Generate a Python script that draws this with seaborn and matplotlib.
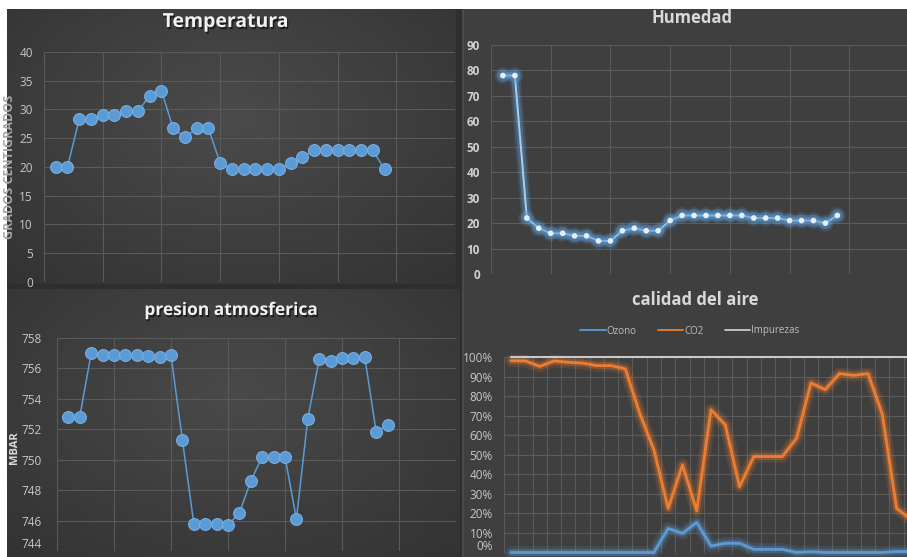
import numpy as np
import matplotlib
matplotlib.use("Agg")
import matplotlib.pyplot as plt
import matplotlib.patheffects as pe
from matplotlib.patches import Rectangle
from matplotlib.lines import Line2D
from matplotlib.colors import to_rgb
import seaborn as sns

# ---- measurements ----
muestras = list(range(1, 30))

temperatura = [20.0, 20.0, 28.3, 28.3, 29.0, 29.0, 29.7, 29.7, 32.4, 33.3,
               26.7, 25.2, 26.7, 26.7, 20.7, 19.6, 19.6, 19.6, 19.6, 19.6,
               20.7, 21.7, 22.9, 22.9, 22.9, 22.9, 22.9, 22.9, 19.6]

humedad = [78, 78, 22, 18, 16, 16, 15, 15, 13, 13,
           17, 18, 17, 17, 21, 23, 23, 23, 23, 23,
           23, 22, 22, 22, 21, 21, 21, 20, 23]

presion = [752.84, 752.84, 757.0, 756.9, 756.9, 756.85, 756.85, 756.8, 756.75, 756.85,
           751.3, 745.8, 745.75, 745.8, 745.7, 746.5, 748.6, 750.2, 750.2, 750.2,
           746.1, 752.7, 756.6, 756.5, 756.7, 756.7, 756.75, 751.8, 752.3]

ozono = [0, 0, 0, 0, 0, 0, 0, 0, 0, 0,
         0, 12.3, 9.8, 15.4, 3.3, 4.7, 4.7, 1.6, 1.6, 1.6,
         0, 0.4, 0, 0, 0, 0, 0, 0.5, 0.5]

co2 = [98.1, 98.0, 95.2, 98.0, 97.3, 96.9, 95.6, 95.6, 93.9, 71.3,
       52.5, 22.6, 44.8, 21.4, 73.0, 65.3, 33.7, 49.1, 49.1, 49.1,
       58.5, 86.7, 83.3, 91.5, 90.6, 91.5, 70.7, 22.6, 17.0]

impurezas = [100] * 29

series_aire = ["Ozono", "CO2", "Impurezas"]

# ---- styling ----
sns.set_theme(style="dark")
plt.rcParams["font.family"] = ["Open Sans", "DejaVu Sans"]

W, H = 907, 557
fig = plt.figure(figsize=(W / 100, H / 100), dpi=100, facecolor="#2e2e2e")

BLUE = "#5b9bd5"
ORANGE = "#ed7d31"
GRID = "#5a5a5a"
TICK = "#c8c8c8"


def rect(x0, y0, x1, y1):
    return [x0 / W, 1 - y1 / H, (x1 - x0) / W, (y1 - y0) / H]


def fill(x0, y0, x1, y1, color):
    fig.patches.append(Rectangle((x0 / W, 1 - y1 / H), (x1 - x0) / W, (y1 - y0) / H,
                                 transform=fig.transFigure, facecolor=color,
                                 edgecolor="none", zorder=-5))


def gradient_panel(x0, y0, x1, y1, inner, outer):
    ax = fig.add_axes(rect(x0, y0, x1, y1), zorder=-1)
    ax.set_axis_off()
    yy, xx = np.mgrid[0:1:200j, 0:1:300j]
    r = np.sqrt(((xx - 0.5) / 0.75) ** 2 + ((yy - 0.4) / 0.85) ** 2)
    r = np.clip(r, 0, 1)[..., None]
    img = np.array(to_rgb(inner)) * (1 - r) + np.array(to_rgb(outer)) * r
    ax.imshow(img, extent=[0, 1, 0, 1], aspect="auto", origin="upper")


# panel backgrounds
fill(0, 0, W, 9, "white")
fill(0, 0, 7, H, "white")
gradient_panel(7, 9, 456, 284, "#4b4b4b", "#323232")
gradient_panel(7, 289, 460, H, "#4a4a4a", "#323232")
fill(463, 9, W, H, "#3f3f3f")
fill(462, 9, 464, H, "#4a4a4a")


def base_axes(x0, y0, x1, y1):
    ax = fig.add_axes(rect(x0, y0, x1, y1), zorder=2)
    ax.set_facecolor("none")
    for s in ax.spines.values():
        s.set_visible(False)
    ax.grid(True, color=GRID, linewidth=0.8)
    ax.tick_params(axis="x", length=0, labelbottom=False)
    ax.tick_params(axis="y", length=0, colors=TICK, labelsize=8.5)
    return ax


def lift_lowest_label(ax):
    fig.canvas.draw()
    labels = ax.get_yticklabels()
    if labels:
        labels[0].set_verticalalignment("bottom")


title_fx = [pe.withSimplePatchShadow(offset=(1, -1.5), shadow_rgbFace="black", alpha=0.55)]

# ---- Temperatura ----
ax1 = base_axes(44, 52, 455, 282)
sns.lineplot(x=muestras, y=temperatura, ax=ax1, color=BLUE, linewidth=1.1,
             marker="o", markersize=8.5, markeredgecolor="#79aee2",
             markeredgewidth=0.8, legend=False)
ax1.set_xlim(0, 35)
ax1.set_ylim(0, 40)
ax1.set_xticks(range(0, 36, 5))
ax1.set_yticks(range(0, 41, 5))
ax1.tick_params(axis="y", pad=8)
ax1.set_xlabel("")
ax1.set_ylabel("")
fig.text(226 / W, 1 - 22 / H, "Temperatura", ha="center", va="center",
         fontsize=14, fontweight="bold", color="#f2f2f2", path_effects=title_fx)
fig.text(10 / W, 1 - 167 / H, "GRADOS CENTIGRADOS", ha="center", va="center",
         rotation=90, fontsize=9, fontweight="bold", color="#a8a8a8")

# ---- Humedad ----
ax2 = base_axes(491, 45, 909, 274)
glow_blue = [pe.Stroke(linewidth=8, foreground=BLUE, alpha=0.18),
             pe.Stroke(linewidth=5, foreground=BLUE, alpha=0.35),
             pe.Normal()]
sns.lineplot(x=muestras, y=humedad, ax=ax2, color="#a9cdf0", linewidth=1.4,
             marker="o", markersize=4, markeredgewidth=0,
             markerfacecolor="#e4effa", legend=False)
for ln in ax2.get_lines():
    ln.set_path_effects(glow_blue)
ax2.set_xlim(0, 35)
ax2.set_ylim(0, 90)
ax2.set_xticks(range(0, 36, 5))
ax2.set_yticks(range(0, 91, 10))
ax2.tick_params(axis="y", pad=8, labelsize=8.5, colors="#d0d0d0")
for t in ax2.get_yticklabels():
    t.set_fontweight("bold")
ax2.set_xlabel("")
ax2.set_ylabel("")
fig.text(692 / W, 1 - 18 / H, "Humedad", ha="center", va="center",
         fontsize=12, fontweight="bold", color="#d9d9d9")

# ---- presion atmosferica ----
ax3 = base_axes(57, 338, 456, 551)
sns.lineplot(x=muestras, y=presion, ax=ax3, color=BLUE, linewidth=1.1,
             marker="o", markersize=8.5, markeredgecolor="#79aee2",
             markeredgewidth=0.8, legend=False)
ax3.set_xlim(0, 35)
ax3.set_ylim(744, 758)
ax3.set_xticks(range(0, 36, 5))
ax3.set_yticks(range(744, 759, 2))
ax3.tick_params(axis="y", pad=11, labelsize=8.5)
ax3.set_xlabel("")
ax3.set_ylabel("")
fig.text(231 / W, 1 - 310 / H, "presion atmosferica", ha="center", va="center",
         fontsize=12.5, fontweight="bold", color="#f2f2f2", path_effects=title_fx)
fig.text(15 / W, 1 - 448 / H, "MBAR", ha="center", va="center",
         rotation=90, fontsize=8, fontweight="bold", color="#d9d9d9")

# ---- calidad del aire ----
ax4 = base_axes(504, 357, 918, 552.5)
idx = [m - 1 for m in muestras]
glow_orange = [pe.Stroke(linewidth=9, foreground=ORANGE, alpha=0.15),
               pe.Stroke(linewidth=5, foreground=ORANGE, alpha=0.3),
               pe.Normal()]
glow_blue2 = [pe.Stroke(linewidth=9, foreground=BLUE, alpha=0.15),
              pe.Stroke(linewidth=5, foreground=BLUE, alpha=0.3),
              pe.Normal()]
colores = {"Ozono": BLUE, "CO2": ORANGE, "Impurezas": "#c9c9c9"}
valores = {"Ozono": ozono, "CO2": co2, "Impurezas": impurezas}
efectos = {"Ozono": glow_blue2, "CO2": glow_orange, "Impurezas": [pe.Normal()]}
grosor = {"Ozono": 2, "CO2": 2, "Impurezas": 1.5}
for nombre in series_aire:
    n_before = len(ax4.get_lines())
    sns.lineplot(x=idx, y=valores[nombre], ax=ax4, color=colores[nombre],
                 linewidth=grosor[nombre], legend=False)
    for ln in ax4.get_lines()[n_before:]:
        ln.set_path_effects(efectos[nombre])
        ln.set_clip_on(False)
ax4.set_xlim(-0.5, 28.5)
ax4.set_ylim(0, 100)
ax4.set_xticks(np.arange(-0.5, 29, 1))
ax4.set_yticks(range(0, 101, 10))
ax4.set_yticklabels([f"{v}%" for v in range(0, 101, 10)])
ax4.tick_params(axis="y", pad=8, labelsize=8.5)
ax4.set_xlabel("")
ax4.set_ylabel("")
fig.text(695 / W, 1 - 300 / H, "calidad del aire", ha="center", va="center",
         fontsize=12, fontweight="bold", color="#d9d9d9")
handles = [Line2D([], [], color=colores[n], linewidth=1.3) for n in series_aire]
fig.legend(handles, series_aire, loc="center", bbox_to_anchor=(690 / W, 1 - 331 / H),
           ncol=3, frameon=False, fontsize=7, labelcolor="#bfbfbf",
           handlelength=2.6, handletextpad=0.1, columnspacing=2.2)

# keep the lowest tick labels of the bottom charts inside the canvas
lift_lowest_label(ax3)
lift_lowest_label(ax4)

fig.savefig("out.png", dpi=100, facecolor=fig.get_facecolor())
